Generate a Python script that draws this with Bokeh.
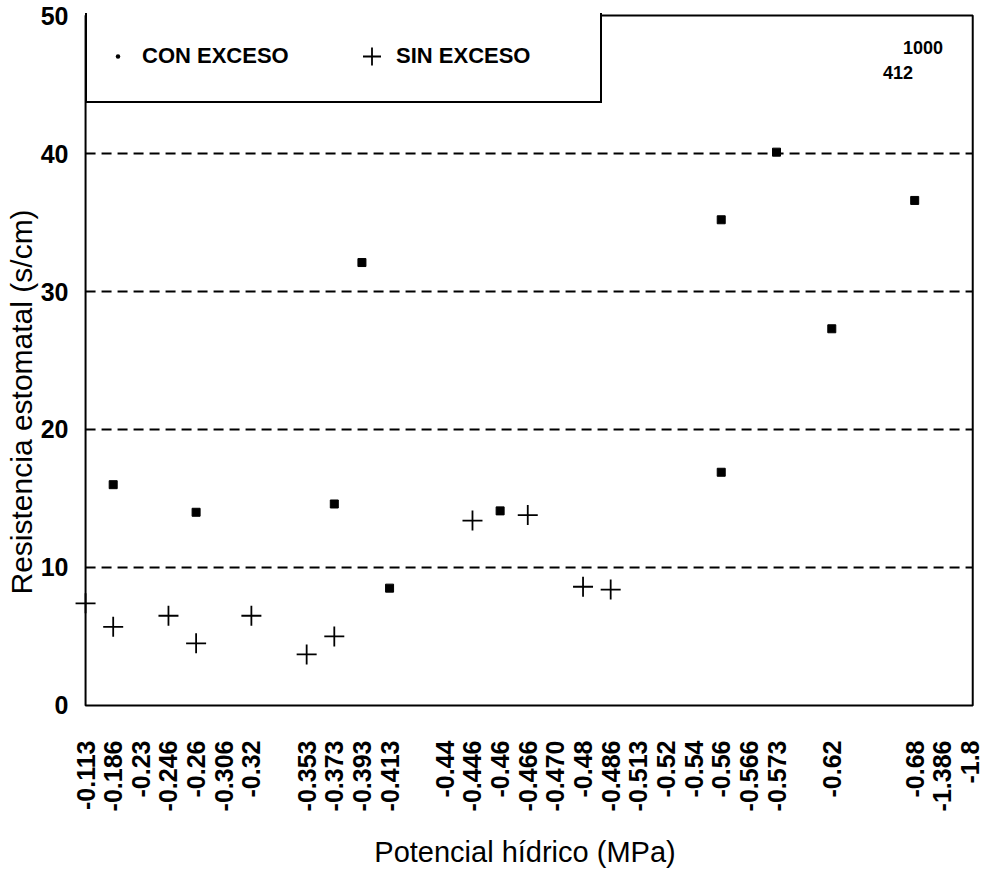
from math import pi

from bokeh.plotting import figure
from bokeh.models import (Range1d, FixedTicker, Legend, LegendItem, Label,
                          BoxAnnotation, ColumnDataSource, Title)
from bokeh.embed import file_html
from bokeh.resources import INLINE

# Water potential categories shown along the x axis, and their slot positions
# (empty slots separate some groups of categories)
tick_labels = ["-0.113", "-0.186", "-0.23", "-0.246", "-0.26", "-0.306", "-0.32",
               "-0.353", "-0.373", "-0.393", "-0.413",
               "-0.44", "-0.446", "-0.46", "-0.466", "-0.470", "-0.48", "-0.486",
               "-0.513", "-0.52", "-0.54", "-0.56", "-0.566", "-0.573",
               "-0.62", "-0.68", "-1.386", "-1.8"]
tick_slots = [0, 1, 2, 3, 4, 5, 6,
              8, 9, 10, 11,
              13, 14, 15, 16, 17, 18, 19,
              20, 21, 22, 23, 24, 25,
              27, 30, 31, 32]

# Stomatal resistance (s/cm), with water excess
con_potential = ["-0.186", "-0.26", "-0.373", "-0.393", "-0.413", "-0.46",
                 "-0.56", "-0.56", "-0.573", "-0.62", "-0.68"]
con_resist = [16.0, 14.0, 14.6, 32.1, 8.5, 14.1, 16.9, 35.2, 40.1, 27.3, 36.6]

# Stomatal resistance (s/cm), without water excess
sin_potential = ["-0.113", "-0.186", "-0.246", "-0.26", "-0.32", "-0.353",
                 "-0.373", "-0.446", "-0.466", "-0.48", "-0.486"]
sin_resist = [7.4, 5.7, 6.5, 4.5, 6.5, 3.7, 5.0, 13.4, 13.8, 8.6, 8.4]

y_ticks = [0, 10, 20, 30, 40, 50]
grid_levels = [10, 20, 30, 40]

slot_of = dict(zip(tick_labels, tick_slots))

# Extent of the boxed plotting area (slot units / s/cm)
box_left, box_right = 0, 32.1
box_bottom, box_top = 0, 50

FONT = "Liberation Sans"

# the ranges leave a thin margin so markers on the box edge are not cut off
p = figure(width=989, height=871, output_backend="svg", toolbar_location=None,
           x_range=Range1d(box_left - 0.4, box_right + 0.1),
           y_range=Range1d(box_bottom - 0.15, box_top + 0.15),
           min_border_left=74, min_border_right=14,
           min_border_top=13, min_border_bottom=164)

p.background_fill_color = "white"
p.border_fill_color = "white"
p.outline_line_color = None

# Axes
p.xaxis.ticker = FixedTicker(ticks=tick_slots)
p.xaxis.major_label_overrides = {s: l for s, l in zip(tick_slots, tick_labels)}
p.xaxis.major_label_orientation = pi / 2
p.yaxis.ticker = FixedTicker(ticks=y_ticks)

for ax in (p.xaxis[0], p.yaxis[0]):
    ax.axis_line_color = None
    ax.major_tick_line_color = None
    ax.minor_tick_line_color = None
    ax.major_label_text_font = FONT
    ax.major_label_text_font_style = "bold"
    ax.major_label_text_font_size = "25px"
    ax.major_label_text_color = "black"
    ax.axis_label_text_font = FONT
    ax.axis_label_text_font_style = "normal"
    ax.axis_label_text_font_size = "29px"
    ax.axis_label_text_color = "black"

p.xaxis.major_label_standoff = 27
p.xaxis.axis_label = "Potencial hídrico (MPa)"
p.xaxis.axis_label_standoff = 22
p.yaxis.major_label_standoff = 0

# Vertical title of the resistance axis, set a little below the middle
p.add_layout(Title(text="Resistencia estomatal (s/cm)", align="left",
                   offset=113, standoff=0, text_font=FONT,
                   text_font_style="normal", text_font_size="30px",
                   text_color="black"), "left")

p.grid.grid_line_color = None

# Dashed horizontal guide lines, running across the box only
p.segment(x0=[box_left] * len(grid_levels), x1=[box_right] * len(grid_levels),
          y0=grid_levels, y1=grid_levels,
          line_color="black", line_width=2, line_dash="10 6")

# Box around the plotting area
p.add_layout(BoxAnnotation(left=box_left, right=box_right,
                           bottom=box_bottom, top=box_top,
                           fill_alpha=0, line_color="black", line_alpha=1.0,
                           line_width=2))

con_src = ColumnDataSource(dict(x=[slot_of[v] for v in con_potential], y=con_resist))
sin_src = ColumnDataSource(dict(x=[slot_of[v] for v in sin_potential], y=sin_resist))

r_con = p.scatter("x", "y", source=con_src, marker="square", size=8,
                  fill_color="black", line_color="black", line_width=1)
r_sin = p.scatter("x", "y", source=sin_src, marker="cross", size=20,
                  line_color="black", line_width=1.8)
# small dot drawn inside each square; it provides the legend symbol
r_con_dot = p.scatter("x", "y", source=con_src, marker="dot", size=8,
                      fill_color="black", line_color="black", line_width=1)

legend = Legend(items=[LegendItem(label="CON EXCESO", renderers=[r_con_dot]),
                       LegendItem(label="SIN EXCESO", renderers=[r_sin])],
                location=(11, 604), orientation="horizontal",
                margin=0, padding=8, spacing=11,
                glyph_width=45, glyph_height=74,
                label_width=196, label_height=74, label_standoff=2,
                label_text_font=FONT, label_text_font_style="bold",
                label_text_font_size="22px", label_text_color="black",
                border_line_color="black", border_line_alpha=1.0,
                border_line_width=2,
                background_fill_color="white", background_fill_alpha=1.0)
p.add_layout(legend)

for txt, xs, yv in (("1000", 30.3, 47.7), ("412", 29.4, 45.9)):
    p.add_layout(Label(x=xs, y=yv, text=txt, text_align="center",
                       text_baseline="middle", text_font=FONT,
                       text_font_style="bold", text_font_size="18px",
                       text_color="black"))

open("out.html", "w").write(file_html(p, INLINE))
